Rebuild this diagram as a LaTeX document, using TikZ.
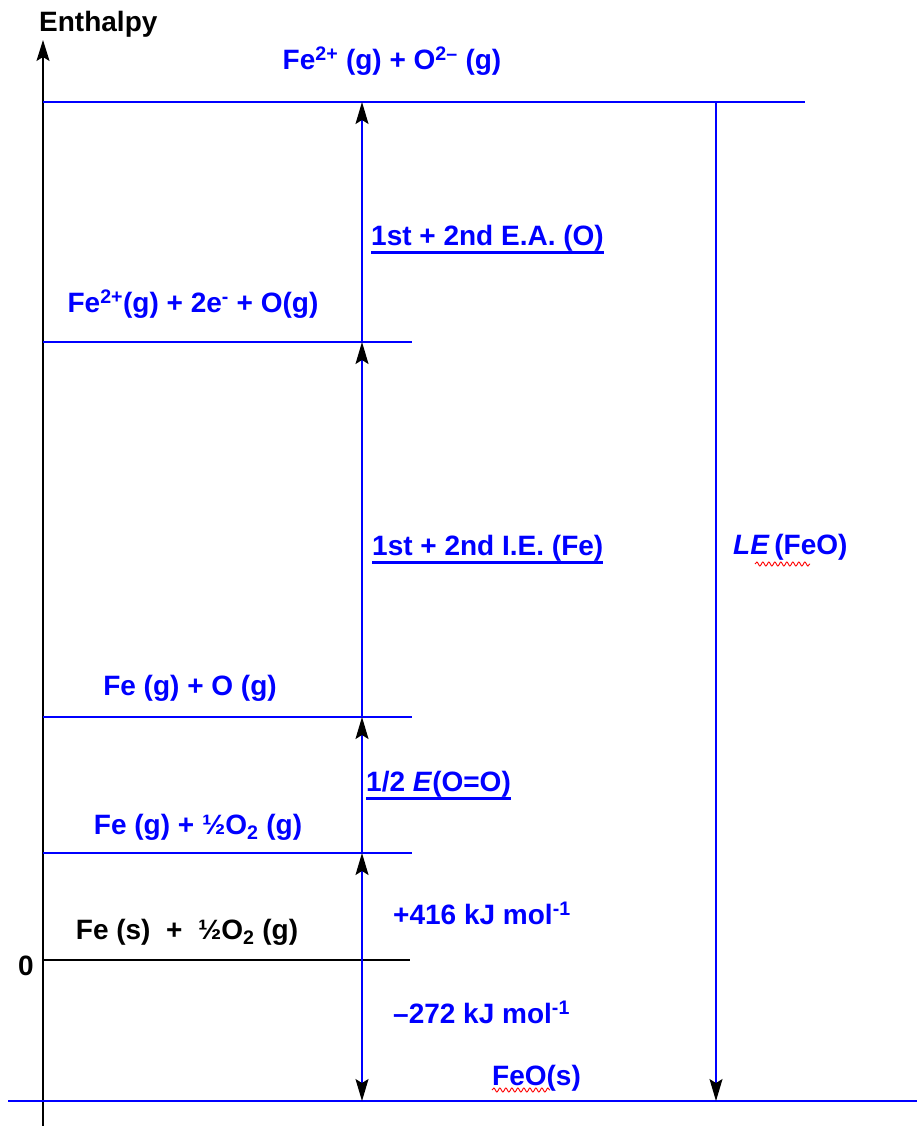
\documentclass[tikz,border=0pt]{standalone}
\usepackage{fontspec}
\setmainfont{Liberation Sans}
\usetikzlibrary{arrows.meta,decorations.pathmorphing}
\begin{document}
\begin{tikzpicture}[x=1pt,y=-1pt,
  lvl/.style={blue, line width=1.3pt},
  lvlzero/.style={black, line width=1.3pt},
  tipup/.style={-{Stealth[length=22pt,width=13pt,inset=4pt,color=black]}},
  stepline/.style={blue, line width=1.3pt, tipup},
  axisline/.style={black, line width=1.3pt, -{Stealth[length=21pt,width=13pt,inset=4pt]}},
  lab/.style={font=\fontsize{28}{32}\selectfont\bfseries, text=blue, inner sep=0pt},
  blab/.style={lab, text=black},
  ul/.style={blue, line width=2.6pt},
  squig/.style={red, line width=0.9pt, decorate, decoration={snake, amplitude=2pt, segment length=6pt}}
]
\useasboundingbox (0,0) rectangle (917,1126);
% axis
\coordinate (axB) at (43,1126);
\coordinate (axT) at (43,40);
\draw[axisline] (axB) -- (axT);
\node[blab, anchor=west] (enth) at (39,24) {Enthalpy};
% levels
\coordinate (t0) at (43,102);  \coordinate (t1) at (805,102);
\coordinate (a0) at (43,342);  \coordinate (a1) at (412,342);
\coordinate (b0) at (43,717);  \coordinate (b1) at (412,717);
\coordinate (c0) at (43,853);  \coordinate (c1) at (412,853);
\coordinate (z0) at (43,960);  \coordinate (z1) at (410,960);
\coordinate (f0) at (8,1101);  \coordinate (f1) at (917,1101);
\draw[lvl] (t0) -- (t1);
\draw[lvl] (a0) -- (a1);
\draw[lvl] (b0) -- (b1);
\draw[lvl] (c0) -- (c1);
\draw[lvlzero] (z0) -- (z1);
\draw[lvl] (f0) -- (f1);
% arrow points
\coordinate (tA) at (362,102);
\coordinate (aA) at (362,342);
\coordinate (bA) at (362,717);
\coordinate (cA) at (362,853);
\coordinate (zA) at (362,960);
\coordinate (fA) at (362,1101);
\coordinate (tL) at (716,102);
\coordinate (fL) at (716,1101);
\draw[stepline] (aA) -- (tA);
\draw[stepline] (bA) -- (aA);
\draw[stepline] (cA) -- (bA);
\draw[stepline] (zA) -- (cA);
\draw[stepline] (zA) -- (fA);
\draw[stepline] (tL) -- (fL);
% level labels
\node[lab] (lt) at (392,61) {Fe\textsuperscript{2+} (g) + O\textsuperscript{2–} (g)};
\node[lab] (la) at (193,304) {Fe\textsuperscript{2+}(g) + 2e\textsuperscript{-} + O(g)};
\node[lab] (lb) at (190,688) {Fe (g) + O (g)};
\node[lab] (lc) at (198,827) {Fe (g) + ½O\textsubscript{2} (g)};
\node[blab] (lz) at (187,932) {Fe (s)\ \ +\ \ ½O\textsubscript{2} (g)};
\node[blab] (zero) at (26,966) {0};
\node[lab, anchor=west] (lf) at (492,1078) {FeO(s)};
% step labels
\node[lab, anchor=west] (ea) at (371,238) {1st + 2nd E.A. (O)};
\node[lab, anchor=west] (ie) at (372,548) {1st + 2nd I.E. (Fe)};
\node[lab, anchor=west] (le) at (733,547) {\textit{LE}\,(FeO)};
\node[lab, anchor=west] (bo) at (366,784) {1/2 \textit{E}(O=O)};
\node[lab, anchor=west] (p416) at (393,913) {+416 kJ mol\textsuperscript{-1}};
\node[lab, anchor=west] (m272) at (393,1012) {–272 kJ mol\textsuperscript{-1}};
% underlines
\draw[ul] ([yshift=-1.5pt]ea.south west) -- ([yshift=-1.5pt]ea.south east);
\draw[ul] ([yshift=-1.5pt]ie.south west) -- ([yshift=-1.5pt]ie.south east);
\draw[ul] ([yshift=-1.5pt]bo.south west) -- ([yshift=-1.5pt]bo.south east);
% spell-check squiggles
\coordinate (s1a) at (755,564); \coordinate (s1b) at (810,564);
\coordinate (s2a) at (492,1090); \coordinate (s2b) at (550,1090);
\draw[squig] (s1a) -- (s1b);
\draw[squig] (s2a) -- (s2b);
\end{tikzpicture}
\end{document}
